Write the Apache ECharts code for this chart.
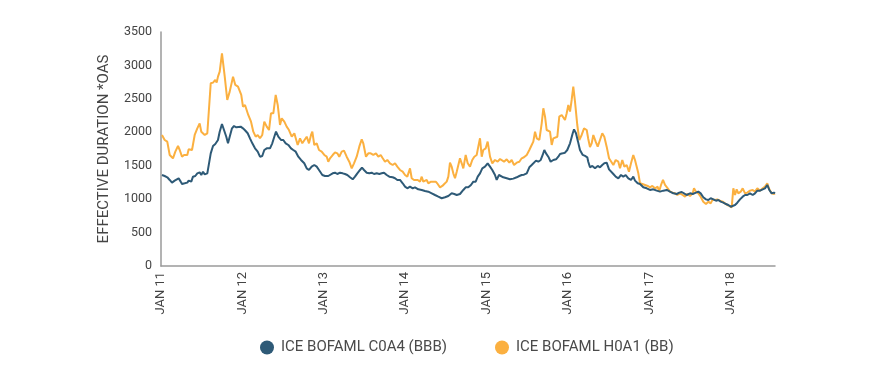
<!DOCTYPE html>
<html>
<head>
<meta charset="utf-8">
<script src="https://cdn.jsdelivr.net/npm/echarts@6/dist/echarts.min.js"></script>
<style>
  html, body { margin: 0; padding: 0; background: #fff; }
  #chart { width: 871px; height: 377px; }
</style>
</head>
<body>
<div id="chart"></div>
<script>
// time is in decimal years, values are effective duration * OAS
var bbbYears = [2011.012,2011.045,2011.077,2011.107,2011.135,2011.168,2011.188,2011.217,2011.242,2011.258,2011.291,2011.323,2011.340,2011.372,2011.393,2011.421,2011.446,2011.475,2011.495,2011.516,2011.537,2011.569,2011.586,2011.611,2011.639,2011.667,2011.700,2011.721,2011.749,2011.774,2011.802,2011.823,2011.844,2011.872,2011.897,2011.925,2011.946,2011.979,2012.007,
  2012.032,2012.065,2012.093,2012.122,2012.155,2012.188,2012.216,2012.244,2012.269,2012.299,2012.339,2012.367,2012.392,2012.413,2012.441,2012.474,2012.502,2012.532,2012.564,2012.597,2012.625,2012.655,2012.687,2012.720,2012.760,2012.790,2012.818,2012.851,2012.883,2012.913,2012.941,2012.982,2013.015,2013.055,
  2013.076,2013.109,2013.138,2013.166,2013.199,2013.232,2013.260,2013.289,2013.322,2013.355,2013.383,2013.412,2013.445,2013.469,2013.494,2013.527,2013.559,2013.588,2013.617,2013.650,2013.682,2013.711,2013.740,2013.773,2013.805,2013.846,2013.875,2013.903,2013.936,2013.969,2013.998,2014.026,2014.059,2014.092,
  2014.120,2014.161,2014.203,2014.243,2014.284,2014.326,2014.366,2014.407,2014.448,2014.489,2014.530,2014.571,2014.603,2014.633,2014.673,2014.714,2014.743,2014.775,2014.808,2014.837,2014.866,2014.891,2014.919,2014.947,2014.980,2015.013,2015.042,2015.070,2015.103,2015.124,2015.152,
  2015.205,2015.247,2015.287,2015.328,2015.370,2015.402,2015.431,2015.459,2015.493,2015.525,2015.554,2015.574,2015.607,2015.635,2015.665,2015.689,2015.709,2015.730,2015.758,2015.787,2015.820,2015.853,2015.881,2015.902,2015.935,2015.963,2015.991,2016.025,2016.058,2016.074,2016.098,2016.123,2016.147,2016.181,2016.209,2016.237,
  2016.249,2016.270,2016.299,2016.332,2016.365,2016.393,2016.421,2016.446,2016.475,2016.504,2016.528,2016.557,2016.586,2016.618,2016.651,2016.679,2016.709,2016.741,2016.774,2016.802,2016.823,2016.856,2016.885,2016.925,2016.967,2017.007,2017.048,2017.090,2017.130,2017.171,2017.213,2017.253,
  2017.294,2017.335,2017.367,2017.397,2017.425,2017.458,2017.499,2017.532,2017.572,2017.601,2017.630,2017.662,2017.695,2017.724,2017.753,2017.785,2017.818,2017.847,2017.876,2017.908,2017.941,2017.969,2017.999,2018.023,2018.052,2018.080,2018.113,2018.146,2018.175,2018.203,2018.236,2018.269,2018.297,2018.326,2018.359,2018.392,2018.420,2018.448,2018.473,2018.502,2018.530,2018.543];
var bbbValues = [1361,1346,1327,1287,1247,1277,1297,1312,1262,1227,1237,1247,1277,1262,1336,1346,1386,1401,1361,1411,1371,1386,1411,1685,1795,1825,1885,2009,2124,2034,1934,1835,1934,2059,2094,2074,2094,2084,2059,
  2030,1985,1910,1835,1760,1710,1635,1646,1735,1760,1760,1835,1934,2009,1934,1885,1885,1835,1810,1760,1735,1710,1635,1586,1536,1461,1436,1486,1511,1486,1436,1361,1346,1346,
  1361,1386,1396,1376,1396,1386,1376,1361,1327,1297,1336,1386,1436,1471,1436,1396,1386,1396,1376,1386,1376,1386,1396,1361,1336,1327,1312,1287,1287,1237,1187,1162,1187,1162,
  1177,1147,1137,1122,1112,1087,1062,1037,1013,1028,1047,1087,1077,1062,1077,1137,1177,1177,1212,1262,1262,1336,1386,1461,1486,1536,1486,1436,1361,1287,1361,
  1327,1312,1297,1307,1327,1346,1361,1366,1386,1476,1511,1536,1576,1560,1586,1661,1735,1685,1635,1560,1586,1596,1635,1676,1685,1695,1735,1835,1985,2044,1985,1860,1735,1661,1646,1626,
  1560,1476,1496,1461,1496,1476,1511,1536,1546,1446,1426,1376,1336,1312,1361,1336,1361,1312,1287,1336,1277,1237,1227,1177,1162,1137,1147,1127,1112,1127,1137,1112,
  1087,1077,1097,1107,1087,1062,1087,1077,1097,1112,1087,1028,997,987,1013,997,977,987,962,947,927,912,887,862,912,947,997,1037,1062,1062,1087,1062,1087,1127,1127,1147,1162,1212,1137,1087,1097,1087];

var bbYears = [2011.012,2011.045,2011.077,2011.107,2011.147,2011.176,2011.209,2011.230,2011.258,2011.283,2011.323,2011.340,2011.381,2011.414,2011.446,2011.475,2011.495,2011.516,2011.537,2011.569,2011.586,2011.611,2011.639,2011.667,2011.684,2011.700,2011.721,2011.749,2011.783,2011.814,2011.844,2011.885,2011.913,2011.946,2011.967,2011.986,2012.007,
  2012.032,2012.072,2012.106,2012.134,2012.163,2012.188,2012.216,2012.244,2012.269,2012.299,2012.327,2012.351,2012.380,2012.409,2012.434,2012.462,2012.483,2012.515,2012.544,2012.572,2012.606,2012.638,2012.655,2012.679,2012.708,2012.736,2012.760,2012.790,2012.818,2012.843,2012.859,2012.883,2012.913,2012.941,2012.974,2013.006,2013.036,2013.055,
  2013.076,2013.109,2013.138,2013.166,2013.190,2013.220,2013.248,2013.281,2013.313,2013.343,2013.371,2013.404,2013.436,2013.466,2013.485,2013.518,2013.547,2013.576,2013.608,2013.641,2013.670,2013.699,2013.724,2013.752,2013.780,2013.813,2013.846,2013.875,2013.903,2013.936,2013.969,2013.998,2014.026,2014.059,2014.080,2014.108,
  2014.154,2014.182,2014.203,2014.222,2014.243,2014.264,2014.284,2014.317,2014.345,2014.375,2014.399,2014.428,2014.456,2014.480,2014.510,2014.530,2014.550,2014.571,2014.591,2014.612,2014.633,2014.652,2014.673,2014.694,2014.714,2014.743,2014.768,2014.796,2014.824,2014.849,2014.878,2014.898,2014.919,2014.940,2014.959,2014.989,2015.013,2015.042,2015.070,2015.103,2015.136,2015.165,
  2015.214,2015.247,2015.279,2015.308,2015.337,2015.370,2015.402,2015.431,2015.459,2015.493,2015.525,2015.554,2015.574,2015.595,2015.616,2015.648,2015.677,2015.697,2015.718,2015.738,2015.758,2015.779,2015.800,2015.820,2015.840,2015.869,2015.893,2015.923,2015.942,2015.963,2015.984,2016.004,2016.025,2016.045,2016.065,2016.086,2016.114,2016.139,2016.168,2016.197,
  2016.230,2016.249,2016.270,2016.291,2016.311,2016.340,2016.365,2016.393,2016.421,2016.446,2016.475,2016.504,2016.528,2016.557,2016.586,2016.618,2016.639,2016.667,2016.692,2016.721,2016.749,2016.774,2016.802,2016.823,2016.844,2016.864,2016.885,2016.913,2016.946,2016.979,2017.007,2017.036,2017.069,2017.102,2017.118,2017.143,2017.167,2017.192,2017.225,2017.253,
  2017.286,2017.315,2017.343,2017.376,2017.409,2017.437,2017.466,2017.499,2017.532,2017.548,2017.572,2017.601,2017.630,2017.662,2017.695,2017.724,2017.753,2017.778,2017.806,2017.834,2017.867,2017.900,2017.929,2017.957,2017.982,2018.011,2018.031,2018.052,2018.072,2018.092,2018.122,2018.146,2018.175,2018.203,2018.236,2018.269,2018.297,2018.326,2018.359,2018.392,2018.420,2018.448,2018.473,2018.502,2018.530,2018.543];
var bbValues = [1960,1885,1860,1661,1611,1710,1795,1735,1635,1661,1661,1745,1735,1960,2059,2134,2009,2034,1960,1985,2009,2733,2743,2783,2743,2832,2907,3182,2832,2483,2608,2832,2708,2683,2708,2558,2383,
  2409,2259,2159,2009,1934,1960,1910,1960,2159,2084,2034,2284,2284,2558,2409,2109,2209,2159,2084,2034,1934,1985,2009,1810,1910,1835,1810,1934,1835,1960,2009,1810,1835,1735,1710,1661,1635,1560,
  1611,1660,1700,1685,1635,1710,1725,1635,1560,1461,1536,1635,1785,1895,1835,1635,1685,1685,1661,1685,1635,1661,1611,1560,1586,1536,1511,1536,1486,1436,1411,1361,1336,1461,1312,1287,
  1287,1262,1336,1262,1287,1287,1237,1262,1262,1262,1227,1177,1197,1227,1262,1336,1546,1486,1386,1312,1411,1411,1611,1536,1461,1661,1536,1486,1586,1635,1661,1785,1910,1635,1735,1760,1860,1635,1536,1586,1560,1600,
  1560,1596,1546,1586,1511,1546,1560,1611,1626,1661,1735,1810,1860,2009,1910,1885,2134,2359,2234,2034,2009,2009,1810,1910,1934,1934,2234,2259,2234,2184,2284,2409,2309,2483,2683,2459,2109,1885,1960,2059,
  2034,1900,1780,1835,1960,1860,1785,1885,1985,1934,1785,1611,1635,1511,1586,1560,1461,1586,1486,1511,1411,1536,1661,1586,1486,1386,1237,1227,1212,1197,1177,1197,1162,1187,1112,1212,1287,1212,1162,1112,
  1097,1087,1062,1087,1062,1037,1077,1047,1087,1162,1112,1087,1037,962,927,962,937,997,987,997,977,962,937,912,898,878,1162,1062,1147,1087,1112,1162,1087,1097,1127,1137,1112,1162,1127,1162,1187,1237,1147,1087,1077,1087];

var yTicks = [0, 500, 1000, 1500, 2000, 2500, 3000, 3500];
var xStart = 2011, xEnd = 2018.543;
var seriesNames = ['ICE BOFAML C0A4 (BBB)', 'ICE BOFAML H0A1 (BB)'];
var colors = ['#2e5a77', '#fbb040'];

function pairs(xs, ys) {
    var out = [];
    for (var i = 0; i < xs.length; i++) out.push([xs[i], ys[i]]);
    return out;
}

var chart = echarts.init(document.getElementById('chart'), null, { renderer: 'canvas' });
var fontFamily = 'Roboto, "Noto Sans", sans-serif';

var option = {
    animation: false,
    textStyle: { fontFamily: fontFamily },
    grid: { left: 161, right: 96, top: 32, bottom: 111 },
    legend: {
        data: seriesNames,
        bottom: 17,
        left: 255,
        icon: 'circle',
        itemWidth: 14,
        itemHeight: 14,
        itemGap: 48,
        textStyle: { color: '#4a4a4a', fontSize: 15, fontFamily: fontFamily, padding: [0, 0, 0, 2] }
    },
    xAxis: {
        type: 'value',
        min: xStart,
        max: xEnd,
        interval: 1,
        splitLine: { show: false },
        axisTick: { show: false },
        axisLine: { show: true, lineStyle: { color: '#9a9a9a', width: 1.5 } },
        axisLabel: {
            rotate: 90,
            margin: 6,
            color: '#444',
            fontSize: 13,
            showMaxLabel: false,
            formatter: function (v) {
                if (Math.abs(v - Math.round(v)) > 0.001) return '';
                return 'JAN ' + String(Math.round(v)).slice(2);
            }
        }
    },
    yAxis: {
        type: 'value',
        min: yTicks[0],
        max: yTicks[yTicks.length - 1],
        interval: 500,
        name: 'EFFECTIVE DURATION *OAS',
        nameLocation: 'middle',
        nameGap: 49,
        nameTextStyle: { color: '#444', fontSize: 15, fontFamily: fontFamily },
        splitLine: { show: false },
        axisTick: { show: false },
        axisLine: { show: true, lineStyle: { color: '#9a9a9a', width: 1.5 } },
        axisLabel: {
            color: '#444',
            fontSize: 12.5,
            margin: 9,
            formatter: function (v) { return String(v); }
        }
    },
    series: [
        {
            name: seriesNames[1],
            type: 'line',
            data: pairs(bbYears, bbValues),
            showSymbol: false,
            symbol: 'circle',
            lineStyle: { color: colors[1], width: 2 },
            itemStyle: { color: colors[1] }
        },
        {
            name: seriesNames[0],
            type: 'line',
            data: pairs(bbbYears, bbbValues),
            showSymbol: false,
            symbol: 'circle',
            lineStyle: { color: colors[0], width: 2 },
            itemStyle: { color: colors[0] }
        }
    ]
};

chart.setOption(option);
</script>
</body>
</html>
